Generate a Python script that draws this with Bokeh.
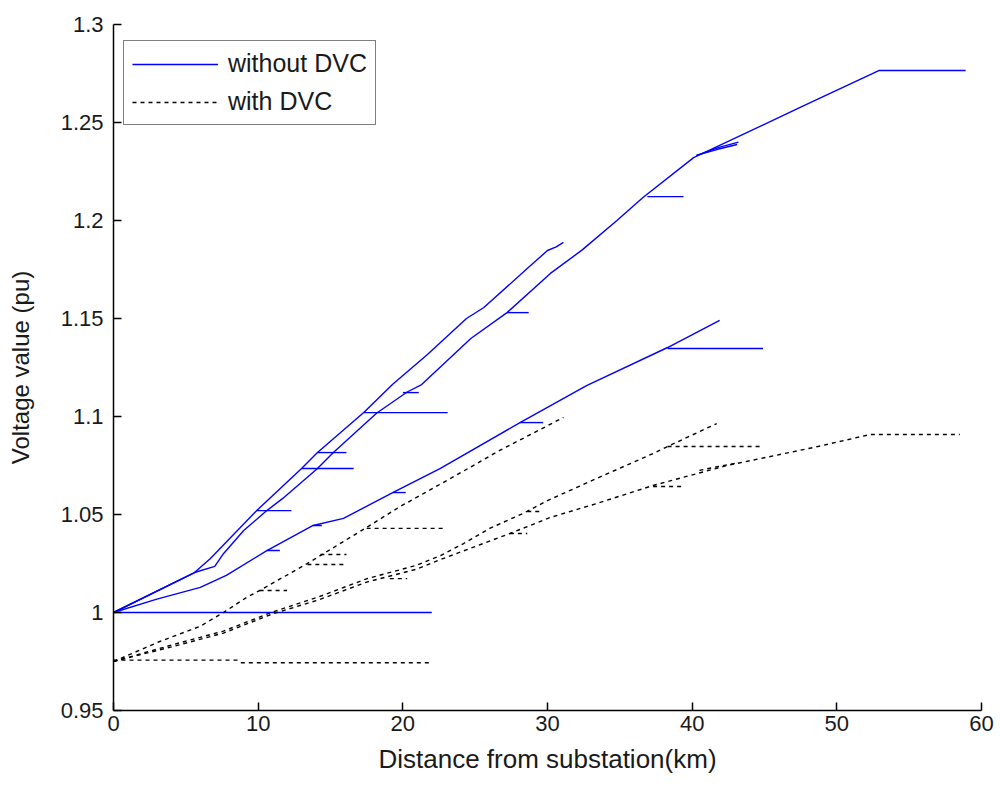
from bokeh.plotting import figure
from bokeh.models import ColumnDataSource, Legend, LegendItem, FixedTicker, Range1d, NumeralTickFormatter
from bokeh.embed import file_html
from bokeh.resources import INLINE

# ---------------- data ----------------
x_ticks = [0, 10, 20, 30, 40, 50, 60]
y_ticks = [0.95, 1.0, 1.05, 1.1, 1.15, 1.2, 1.25, 1.3]

# without DVC (blue, solid)
wo_main_x = [0, 5.6, 7.0, 7.6, 9.0, 10.6, 11.7, 14.1, 15.2, 18.2, 20.3, 21.3, 24.7, 27.2, 30.2, 32.4, 34.8, 36.6, 40.1, 47.5, 52.9, 58.9]
wo_main_y = [1.0, 1.0204, 1.0235, 1.030, 1.0418, 1.052, 1.0582, 1.0735, 1.0816, 1.1018, 1.1125, 1.1163, 1.1398, 1.153, 1.173, 1.185, 1.2, 1.2117, 1.2321, 1.2578, 1.2765, 1.2765]
wo_a_x = [0, 5.6, 6.7, 9.9, 13.0, 14.1, 17.3, 19.3, 21.7, 24.4, 25.6, 28.6, 30.0, 30.6, 31.1]
wo_a_y = [1.0, 1.0204, 1.0276, 1.052, 1.0735, 1.0816, 1.102, 1.1165, 1.1316, 1.15, 1.1556, 1.1755, 1.1847, 1.1865, 1.1888]
wo_mid_x = [0, 3.0, 6.0, 7.8, 10.6, 13.8, 15.9, 19.3, 22.6, 28.1, 32.7, 38.3, 41.9]
wo_mid_y = [1.0, 1.0068, 1.0128, 1.0189, 1.0316, 1.0444, 1.048, 1.0612, 1.0735, 1.0969, 1.1158, 1.1352, 1.149]
wo_br1_x = [40.3, 41.8, 43.2]
wo_br1_y = [1.2332, 1.2372, 1.2400]
wo_br2_x = [40.3, 41.7, 43.1]
wo_br2_y = [1.2332, 1.2362, 1.2388]
wo_stub_x0 = [0, 9.9, 10.6, 13.0, 14.1, 13.8, 17.3, 19.3, 20.0, 27.2, 28.1, 36.9, 38.3]
wo_stub_x1 = [22.0, 12.3, 11.5, 16.6, 16.1, 14.4, 23.1, 20.2, 21.1, 28.7, 29.7, 39.4, 44.9]
wo_stub_y = [1.0, 1.052, 1.0316, 1.0735, 1.0816, 1.0444, 1.102, 1.0612, 1.1122, 1.153, 1.0969, 1.2122, 1.1347]

# with DVC (black, dashed)
w_d1_x = [0, 3.2, 6.0, 7.6, 9.2, 10.1, 13.4, 17.5, 19.8, 23.3, 26.7, 31.1]
w_d1_y = [0.975, 0.9852, 0.993, 1.0, 1.0077, 1.0112, 1.025, 1.0434, 1.054, 1.0684, 1.0827, 1.0995]
w_d2_x = [0, 4.4, 7.6, 11.0, 14.2, 17.5, 20.9, 22.6, 24.2, 26.0, 28.3, 30.0, 33.4, 37.3, 38.3, 41.7]
w_d2_y = [0.975, 0.9842, 0.9905, 1.0003, 1.008, 1.0172, 1.024, 1.029, 1.0352, 1.0429, 1.0505, 1.0571, 1.0684, 1.0811, 1.0847, 1.0964]
w_d3_x = [0, 4.4, 7.6, 11.0, 14.2, 17.5, 20.9, 22.6, 27.4, 30.2, 33.4, 37.3, 42.4, 48.4, 52.3, 58.5]
w_d3_y = [0.975, 0.9832, 0.9895, 0.9993, 1.0065, 1.0155, 1.022, 1.027, 1.0403, 1.0485, 1.0556, 1.0648, 1.075, 1.0842, 1.0908, 1.0908]
w_br_x = [40.5, 41.8, 43.0]
w_br_y = [1.0725, 1.0745, 1.0762]
w_stub_x0 = [0, 8.8, 10.1, 13.4, 14.3, 17.5, 19.1, 27.4, 28.6, 37.3, 38.3]
w_stub_x1 = [8.8, 22.0, 12.0, 16.1, 16.1, 22.8, 20.3, 28.6, 29.7, 39.4, 44.8]
w_stub_y = [0.9757, 0.9744, 1.0112, 1.0245, 1.0296, 1.0429, 1.0173, 1.0403, 1.0515, 1.0643, 1.0847]

# ---------------- styling ----------------
FONT = "Liberation Sans"
BLUE = "#0000FF"
BLACK = "#000000"
TXT = "#1a1a1a"
LW = 1.4
DASH = "4 4"

p = figure(width=998, height=784,
           x_range=Range1d(0, 60), y_range=Range1d(0.95, 1.3),
           output_backend="svg", toolbar_location=None,
           min_border_left=113, min_border_right=17,
           min_border_top=24, min_border_bottom=74)
p.outline_line_color = None
p.grid.visible = False
p.background_fill_color = "white"
p.border_fill_color = "white"

# blue lines
r_wo = p.line(wo_main_x, wo_main_y, line_color=BLUE, line_width=LW)
for xs, ys in [(wo_a_x, wo_a_y), (wo_mid_x, wo_mid_y), (wo_br1_x, wo_br1_y), (wo_br2_x, wo_br2_y)]:
    p.line(xs, ys, line_color=BLUE, line_width=LW)
wo_src = ColumnDataSource(dict(x0=wo_stub_x0, x1=wo_stub_x1, y=wo_stub_y))
p.segment(x0="x0", y0="y", x1="x1", y1="y", source=wo_src, line_color=BLUE, line_width=LW)

# black dashed lines
r_w = p.line(w_d1_x, w_d1_y, line_color=BLACK, line_width=LW, line_dash=DASH)
for xs, ys in [(w_d2_x, w_d2_y), (w_d3_x, w_d3_y), (w_br_x, w_br_y)]:
    p.line(xs, ys, line_color=BLACK, line_width=LW, line_dash=DASH)
w_src = ColumnDataSource(dict(x0=w_stub_x0, x1=w_stub_x1, y=w_stub_y))
p.segment(x0="x0", y0="y", x1="x1", y1="y", source=w_src, line_color=BLACK, line_width=LW, line_dash=DASH)

# axes
for ax in (p.xaxis[0], p.yaxis[0]):
    ax.axis_line_color = "black"
    ax.axis_line_width = 1.5
    ax.major_tick_in = 8
    ax.major_tick_out = 0
    ax.major_tick_line_width = 1.5
    ax.minor_tick_line_color = None
    ax.major_label_text_font = FONT
    ax.major_label_text_font_size = "22px"
    ax.major_label_text_color = TXT
    ax.axis_label_text_font = FONT
    ax.axis_label_text_font_style = "normal"
    ax.axis_label_text_color = TXT

p.xaxis.ticker = FixedTicker(ticks=x_ticks)
p.yaxis.ticker = FixedTicker(ticks=y_ticks)
p.yaxis.formatter = NumeralTickFormatter(format="0.[00]")
p.xaxis.axis_label = "Distance from substation(km)"
p.yaxis.axis_label = "Voltage value (pu)"
p.xaxis.axis_label_text_font_size = "26px"
p.yaxis.axis_label_text_font_size = "24px"
p.xaxis.major_label_standoff = 5
p.xaxis.axis_label_standoff = 10
p.yaxis.major_label_standoff = 10
p.yaxis.axis_label_standoff = 24

legend = Legend(items=[LegendItem(label="without DVC", renderers=[r_wo]),
                       LegendItem(label="with DVC", renderers=[r_w])],
                location=(10, 585))
legend.label_text_font = FONT
legend.label_text_font_size = "25px"
legend.label_text_color = TXT
legend.glyph_width = 86
legend.glyph_height = 24
legend.label_height = 24
legend.label_standoff = 10
legend.spacing = 9
legend.padding = 8
legend.margin = 0
legend.border_line_color = "black"
legend.border_line_width = 1.5
legend.background_fill_color = "white"
legend.background_fill_alpha = 1.0
p.add_layout(legend)

open("out.html", "w").write(file_html(p, INLINE))
